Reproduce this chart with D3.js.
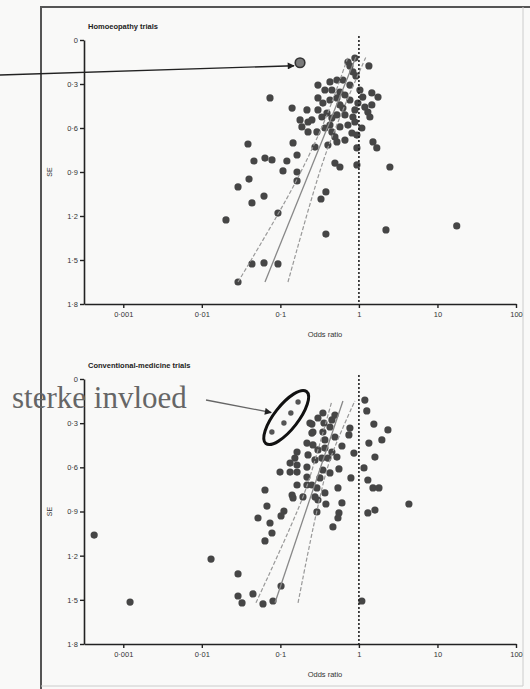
<!DOCTYPE html>
<html>
<head>
<meta charset="utf-8">
<script src="https://cdn.jsdelivr.net/npm/d3@7"></script>
<style>
body { margin: 0; background: #fff; }
svg { display: block; }
</style>
</head>
<body>
<svg id="chart"></svg>
<script>
var seTicks = [0, 0.3, 0.6, 0.9, 1.2, 1.5, 1.8];
var seLabels = ["0", "0·3", "0·6", "0·9", "1·2", "1·5", "1·8"];
var orTicks = [0.001, 0.01, 0.1, 1, 10, 100];
var orLabels = ["0·001", "0·01", "0·1", "1", "10", "100"];

// [odds ratio, standard error]
var homTrials = [
  [0.725,0.150],[0.889,0.123],[0.839,0.218],[0.916,0.245],[1.34,0.177],[0.768,0.177],
  [0.301,0.307],[0.428,0.286],[0.525,0.273],[0.626,0.273],[0.453,0.341],[0.573,0.355],
  [0.301,0.395],[0.348,0.430],[0.428,0.409],[0.525,0.395],[0.301,0.477],[0.338,0.525],
  [0.392,0.498],[0.453,0.532],[0.525,0.511],[0.664,0.511],[0.839,0.525],[0.573,0.593],
  [0.725,0.580],[0.889,0.559],[0.369,0.600],[0.453,0.627],[0.495,0.661],[0.943,0.648],
  [0.815,0.634],[0.525,0.695],[1.12,0.389],[1.46,0.361],[1.75,0.389],[0.971,0.430],
  [1.19,0.457],[1.46,0.443],[1.30,0.491],[0.889,0.477],[1.38,0.525],[0.141,0.464],
  [0.218,0.477],[0.178,0.545],[0.225,0.559],[0.188,0.593],[0.225,0.627],[0.292,0.627],
  [0.0738,0.395],[0.145,0.702],[0.276,0.730],[0.163,0.784],[0.495,0.839],[0.573,0.866],
  [0.943,0.736],[0.943,0.852],[1.51,0.695],[1.69,0.736],[2.48,0.866],[0.0387,0.709],
  [0.0637,0.805],[0.0782,0.818],[0.0461,0.825],[0.121,0.825],[0.108,0.893],[0.163,0.900],
  [0.163,0.961],[0.0399,0.948],[0.0289,1.002],[0.0435,1.111],[0.0619,1.064],[0.0932,1.180],
  [0.0203,1.227],[0.380,1.036],[0.329,1.084],[0.380,1.323],[2.21,1.295],[17.6,1.268],
  [0.0435,1.527],[0.0619,1.520],[0.0932,1.527],[0.0289,1.650],
  [0.369,0.341],[0.664,0.375],[0.768,0.409],[0.626,0.464],[0.252,0.545],[0.664,0.682],
  [0.403,0.716],[1.03,0.341],[0.768,0.307],[0.573,0.443],[0.428,0.580],[1.09,0.600]
];
var homOutlier = [0.178, 0.155];
var homFit = [[0.0637,1.650],[0.916,0.116]];
var homLower = [[0.0289,1.650],[0.145,1.002],[0.369,0.545],[0.725,0.116]];
var homUpper = [[0.125,1.650],[0.348,0.832],[0.626,0.477],[1.228,0.116]];

var convTrials = [
  [1.19,0.143],[1.26,0.217],[1.55,0.306],[2.34,0.346],[1.96,0.414],[1.34,0.435],
  [1.60,0.530],[1.16,0.604],[1.30,0.686],[1.51,0.740],[1.80,0.740],[4.33,0.849],
  [1.30,0.910],[1.60,0.890],[1.09,1.508],
  [0.864,0.503],[0.791,0.672],[0.557,0.611],[0.541,0.740],[0.768,0.333],[0.746,0.380],[0.608,0.455],
  [0.348,0.231],[0.453,0.278],[0.495,0.245],[0.359,0.299],[0.428,0.326],[0.238,0.299],
  [0.260,0.360],[0.348,0.360],[0.495,0.394],[0.369,0.414],[0.218,0.435],[0.260,0.448],
  [0.301,0.482],[0.369,0.469],[0.453,0.496],[0.525,0.530],[0.225,0.516],[0.276,0.550],
  [0.338,0.537],[0.403,0.537],[0.163,0.496],[0.153,0.537],[0.133,0.571],[0.163,0.584],
  [0.218,0.598],[0.099,0.632],[0.133,0.632],[0.163,0.632],[0.218,0.666],[0.348,0.618],
  [0.428,0.638],[0.319,0.672],[0.218,0.720],[0.163,0.720],[0.252,0.720],[0.292,0.740],
  [0.0637,0.754],[0.141,0.788],[0.194,0.801],[0.276,0.801],[0.369,0.774],[0.252,0.306],
  [0.252,0.367],[0.301,0.265],
  [0.145,0.808],[0.0675,0.863],[0.111,0.897],[0.102,0.930],[0.0519,0.944],[0.0738,0.978],
  [0.0782,1.046],[0.0637,1.100],[0.0131,1.223],[0.0289,1.324],[0.0289,1.474],[0.0325,1.521],
  [0.0448,1.460],[0.0601,1.528],[0.0805,1.508],[0.102,1.406],[0.292,0.903],[0.301,0.822],
  [0.380,0.849],[0.608,0.842],[0.557,0.910],[0.541,0.944],[0.467,1.005],[0.000426,1.060],
  [0.00122,1.515]
];
var convInfluential = [[0.168,0.156],[0.136,0.231],[0.111,0.299],[0.078,0.360]];
var convFit = [[0.0854,1.52],[0.626,0.149]];
var convLower = [[0.0489,1.52],[0.194,0.801],[0.301,0.482],[0.453,0.149]];
var convUpper = [[0.168,1.52],[0.284,0.924],[0.428,0.550],[0.889,0.149]];

var W = 530, H = 689;
var svg = d3.select("#chart").attr("width", W).attr("height", H);

svg.append("rect").attr("width", W).attr("height", H).attr("fill", "#f9f9f8");

var defs = svg.append("defs");
defs.append("marker").attr("id", "head")
  .attr("viewBox", "0 0 10 10").attr("refX", 9).attr("refY", 5)
  .attr("markerWidth", 10).attr("markerHeight", 7).attr("markerUnits", "userSpaceOnUse")
  .attr("orient", "auto")
  .append("path").attr("d", "M0,0L10,5L0,10z").attr("fill", "#222");

// scanned page frame
svg.append("path").attr("d", "M41,689V7H530").attr("fill", "none").attr("stroke", "#555").attr("stroke-width", 2);
svg.append("path").attr("d", "M41,686H523V7").attr("fill", "none").attr("stroke", "#ccc").attr("stroke-width", 1);

var x = d3.scaleLog().domain([Math.pow(10, -3.5), 100]).range([84, 516]);

function panel(top, bottom, title, pts, fit, lower, upper) {
  var y = d3.scaleLinear().domain([0, 1.8]).range([top, bottom]);
  var g = svg.append("g");

  g.append("text").attr("x", 88).attr("y", top - 11)
    .attr("font-family", "Liberation Sans, Arial, sans-serif").attr("font-size", 7.5)
    .attr("font-weight", "bold").attr("fill", "#222").text(title);

  var yAxis = g.append("g").attr("transform", "translate(84,0)")
    .call(d3.axisLeft(y).tickValues(seTicks).tickFormat(function(d, i) { return seLabels[i]; })
      .tickSize(4).tickSizeOuter(0).tickPadding(2));
  var xAxis = g.append("g").attr("transform", "translate(0," + bottom + ")")
    .call(d3.axisBottom(x).tickValues(orTicks).tickFormat(function(d, i) { return orLabels[i]; })
      .tickSize(4).tickSizeOuter(0).tickPadding(4));
  [yAxis, xAxis].forEach(function(a) {
    a.select(".domain").attr("stroke", "#222").attr("stroke-width", 1.6);
    a.selectAll(".tick line").attr("stroke", "#222").attr("stroke-width", 1.4);
    a.selectAll("text").attr("font-family", "Liberation Sans, Arial, sans-serif")
      .attr("font-size", 7.5).attr("fill", "#333");
  });

  g.append("text").attr("x", 325).attr("y", bottom + 33).attr("text-anchor", "middle")
    .attr("font-family", "Liberation Sans, Arial, sans-serif").attr("font-size", 7.5)
    .attr("fill", "#333").text("Odds ratio");
  g.append("text").attr("transform", "translate(52," + ((top + bottom) / 2) + ") rotate(-90)")
    .attr("text-anchor", "middle")
    .attr("font-family", "Liberation Sans, Arial, sans-serif").attr("font-size", 7)
    .attr("fill", "#333").text("SE");

  g.selectAll(".trial").data(pts).enter().append("circle")
    .attr("class", "trial")
    .attr("cx", function(d) { return x(d[0]); })
    .attr("cy", function(d) { return y(d[1]); })
    .attr("r", 3.6).attr("fill", "#464646");

  var line = d3.line().x(function(d) { return x(d[0]); }).y(function(d) { return y(d[1]); })
    .curve(d3.curveCatmullRom);
  g.append("path").attr("d", line(fit)).attr("fill", "none").attr("stroke", "#888").attr("stroke-width", 1.3);
  [lower, upper].forEach(function(l) {
    g.append("path").attr("d", line(l)).attr("fill", "none").attr("stroke", "#999")
      .attr("stroke-width", 1.2).attr("stroke-dasharray", "4,2");
  });

  g.append("line").attr("x1", x(1)).attr("x2", x(1)).attr("y1", top - 4).attr("y2", bottom)
    .attr("stroke", "#222").attr("stroke-width", 1.6).attr("stroke-dasharray", "2,2");

  return y;
}

var yTop = panel(40, 304, "Homoeopathy trials", homTrials, homFit, homLower, homUpper);
var yBot = panel(379, 644, "Conventional-medicine trials", convTrials, convFit, convLower, convUpper);

// top annotation: arrow to the outlying trial
var ox = x(homOutlier[0]), oy = yTop(homOutlier[1]);
svg.append("line").attr("x1", 0).attr("y1", 75).attr("x2", ox - 6).attr("y2", oy + 3)
  .attr("stroke", "#222").attr("stroke-width", 1.3).attr("marker-end", "url(#head)");
svg.append("circle").attr("cx", ox).attr("cy", oy).attr("r", 4.8)
  .attr("fill", "#7a7a7a").attr("stroke", "#333").attr("stroke-width", 1.6);

// bottom annotation: influential small trials
svg.selectAll(".infl").data(convInfluential).enter().append("circle")
  .attr("class", "infl")
  .attr("cx", function(d) { return x(d[0]); })
  .attr("cy", function(d) { return yBot(d[1]); })
  .attr("r", 2.7).attr("fill", "#555");
var ecx = d3.mean(convInfluential, function(d) { return x(d[0]); });
var ecy = d3.mean(convInfluential, function(d) { return yBot(d[1]); });
svg.append("ellipse").attr("cx", ecx).attr("cy", ecy).attr("rx", 33).attr("ry", 12)
  .attr("transform", "rotate(-52," + ecx + "," + ecy + ")")
  .attr("fill", "none").attr("stroke", "#111").attr("stroke-width", 3);
svg.append("line").attr("x1", 206).attr("y1", 400).attr("x2", ecx - 15).attr("y2", ecy - 5)
  .attr("stroke", "#666").attr("stroke-width", 1.3).attr("marker-end", "url(#head)");
svg.append("text").attr("x", 12).attr("y", 408)
  .attr("font-family", "Liberation Serif, Times New Roman, serif").attr("font-size", 31)
  .attr("fill", "#666").text("sterke invloed");
</script>
</body>
</html>
